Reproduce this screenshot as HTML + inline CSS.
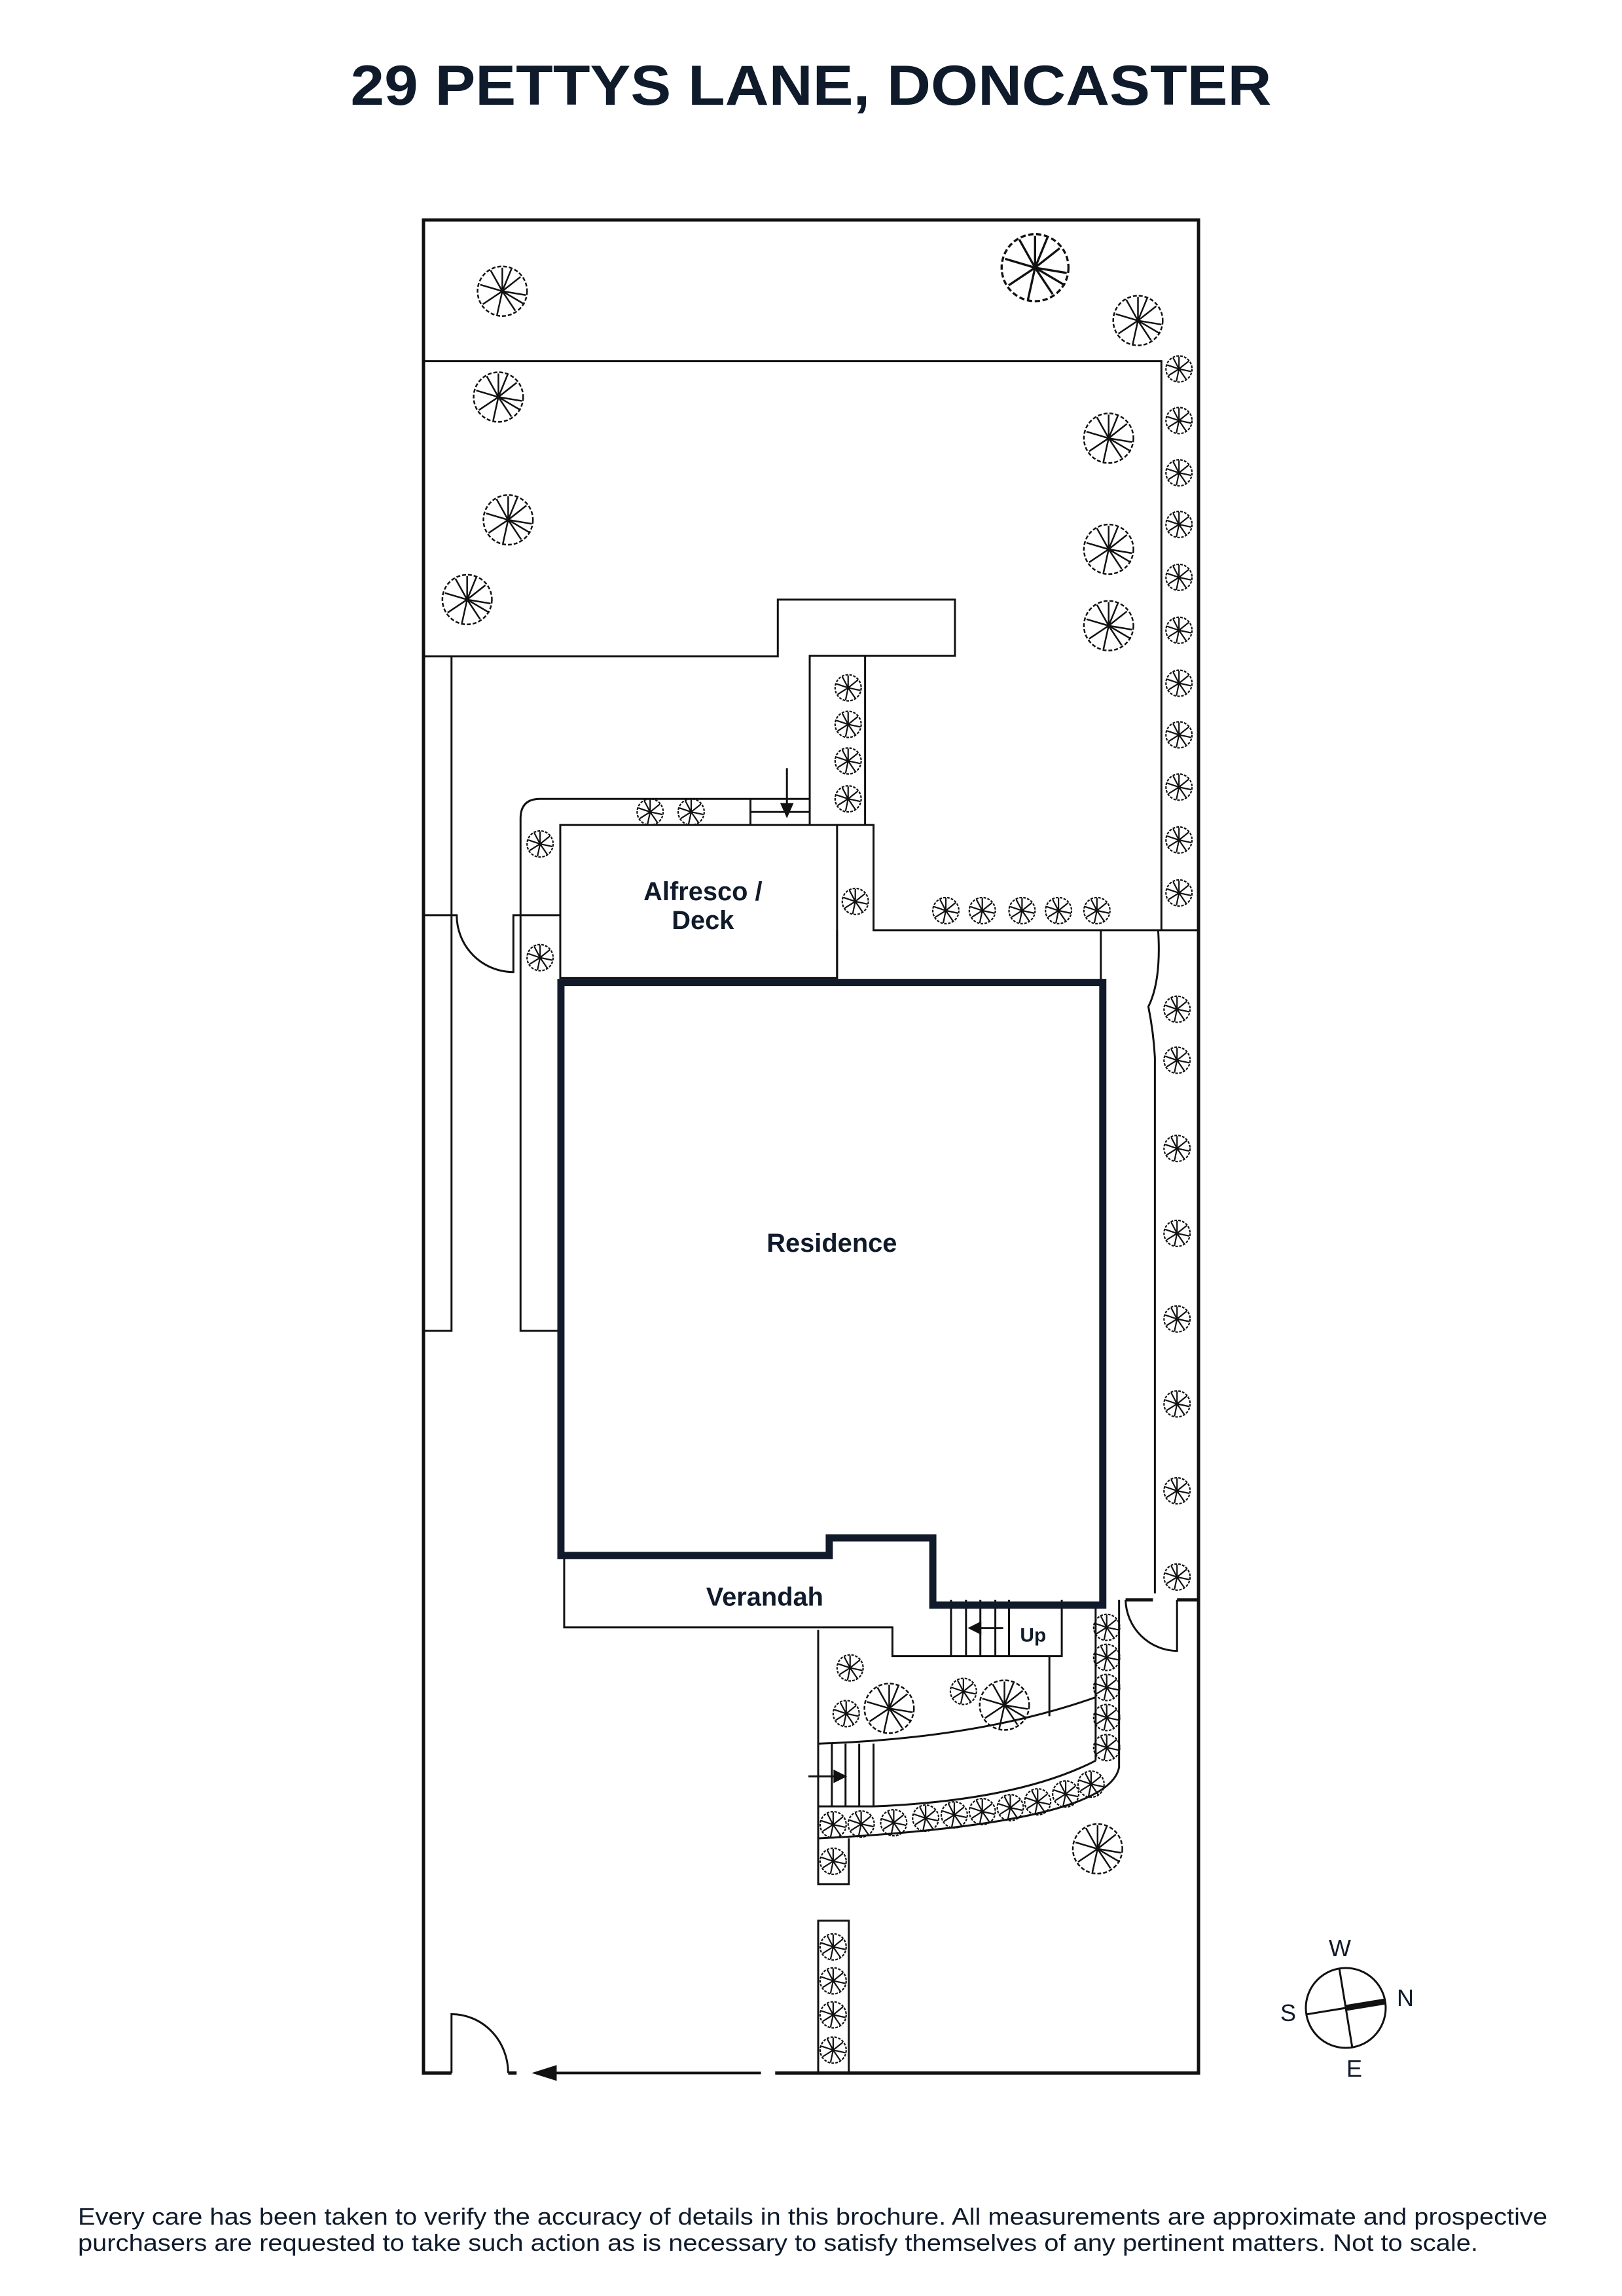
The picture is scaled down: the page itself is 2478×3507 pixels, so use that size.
<!DOCTYPE html>
<html><head><meta charset="utf-8"><style>
html,body{margin:0;padding:0;background:#fff}
svg{display:block}
text{font-family:"Liberation Sans",Arial,sans-serif;fill:#0f1a2a}
</style></head><body>
<svg width="2478" height="3507" viewBox="0 0 2478 3507" xmlns="http://www.w3.org/2000/svg">
<defs>
<g id="tb" fill="none" stroke="#111" stroke-width="2.5">
<circle r="38" stroke-dasharray="6 3"/>
<path d="M0 0L0 -36M0 0L28 -22M0 0L36 6M0 0L20 30M0 0L-8 36M0 0L-30 20M0 0L-34 -10M0 0L-18 -32M0 0L14 -34M0 0L34 20"/>
</g>
<g id="ts" fill="none" stroke="#111" stroke-width="2.2">
<circle r="20" stroke-dasharray="4 2"/>
<path d="M0 0L0 -19M0 0L15 -12M0 0L19 4M0 0L11 16M0 0L-4 19M0 0L-16 10M0 0L-18 -6M0 0L-9 -17"/>
</g>
</defs>
<text x="1239" y="160" font-size="86" font-weight="bold" text-anchor="middle" textLength="1407" lengthAdjust="spacingAndGlyphs">29 PETTYS LANE, DONCASTER</text>

<g transform="translate(647 336) scale(0.995 0.998) translate(-647 -336)">
<g fill="none" stroke="#111" stroke-width="3">
<path d="M690 3172H647V336H1837V2448H1804M1725 2448H1767" stroke-width="5"/>
<path d="M1837 2448V3172H1187" stroke-width="5"/>
<path d="M1165 3172H830" />
<path d="M777 3172H790" stroke-width="5"/>
<path d="M690 3172V3082A87 90 0 0 1 777 3172"/>
<path d="M647 552H1780V1423"/>
<path d="M647 1004H1191V917H1463V1003H1240V1261"/>
<path d="M1325 1004V1261"/>
<path d="M690 1004V2036H647"/>
<path d="M647 1400H698A87 87 0 0 0 785 1487V1400H857"/>
<path d="M857 2036H796V1252Q796 1222 826 1222H1240"/>
<path d="M1149 1222V1261M1149 1242H1240"/>
<rect x="857" y="1262" width="425" height="234"/>
<path d="M1282 1262H1338V1423H1837M1282 1423V1496"/>
<path d="M1687 1423V2448"/>
<path d="M1775 1423Q1780 1500 1760 1540Q1768 1580 1770 1618V2438"/>
<path d="M863 2380V2490H1367V2534H1627V2448"/>
<path d="M1457 2448V2534M1480 2448V2534M1502 2448V2534M1525 2448V2534M1546 2448V2534"/>
<path d="M1725 2448A80 80 0 0 0 1804 2526V2448"/>
<path d="M1253 2494V2883H1300V2813"/>
<path d="M1608 2534V2626"/>
<path d="M1253 2668Q1500 2660 1679 2597"/>
<path d="M1338 2764Q1560 2755 1679 2694"/>
<path d="M1679 2453V2694"/>
<path d="M1715 2448V2704Q1700 2790 1253 2813"/>
<path d="M1274 2668V2764M1295 2668V2764M1316 2668V2764M1338 2668V2764M1253 2764H1338"/>
<path d="M1253 3172V2939H1300V3172"/>
</g>
<path d="M858 1503H1690V2456H1429V2353H1270V2380H858Z" fill="none" stroke="#111a2a" stroke-width="11"/>
<g stroke="#111" stroke-width="3" fill="#111">
<path d="M1205 1175V1232" fill="none"/><path d="M1197 1230H1213L1205 1248Z"/>
<path d="M1537 2491H1500" fill="none"/><path d="M1502 2483V2499L1486 2491Z"/>
<path d="M1238 2718H1280" fill="none"/><path d="M1278 2710V2726L1294 2718Z"/>
<path d="M1165 3172H845" fill="none" stroke-width="4"/><path d="M850 3162V3182L818 3172Z"/>
</g>
<g font-weight="bold" text-anchor="middle">
<text x="1076" y="1377" font-size="40">Alfresco /</text>
<text x="1076" y="1421" font-size="40">Deck</text>
<text x="1274" y="1915" font-size="40">Residence</text>
<text x="1171" y="2457" font-size="40">Verandah</text>
<text x="1583" y="2512" font-size="30">Up</text>
</g>
<use href="#tb" x="768" y="445"/><use href="#tb" x="1586" y="409" transform="translate(1586 409) scale(1.35) translate(-1586 -409)"/>
<use href="#tb" x="1744" y="490"/><use href="#tb" x="762" y="607"/><use href="#tb" x="1699" y="670"/>
<use href="#tb" x="777" y="795"/><use href="#tb" x="714" y="917"/><use href="#tb" x="1699" y="840"/>
<use href="#tb" x="1699" y="957"/><use href="#tb" x="1362" y="2614"/><use href="#tb" x="1539" y="2609"/><use href="#tb" x="1682" y="2829"/>
<g>
<use href="#ts" x="1807" y="564"/><use href="#ts" x="1807" y="643"/><use href="#ts" x="1807" y="723"/><use href="#ts" x="1807" y="802"/>
<use href="#ts" x="1807" y="883"/><use href="#ts" x="1807" y="964"/><use href="#ts" x="1807" y="1045"/><use href="#ts" x="1807" y="1124"/>
<use href="#ts" x="1807" y="1204"/><use href="#ts" x="1807" y="1285"/><use href="#ts" x="1807" y="1366"/>
<use href="#ts" x="1449" y="1393"/><use href="#ts" x="1505" y="1393"/><use href="#ts" x="1566" y="1393"/><use href="#ts" x="1622" y="1393"/><use href="#ts" x="1681" y="1393"/>
<use href="#ts" x="1299" y="1052"/><use href="#ts" x="1299" y="1108"/><use href="#ts" x="1299" y="1164"/><use href="#ts" x="1299" y="1222"/>
<use href="#ts" x="995" y="1242"/><use href="#ts" x="1058" y="1242"/><use href="#ts" x="826" y="1291"/><use href="#ts" x="1310" y="1379"/><use href="#ts" x="826" y="1465"/>
<use href="#ts" x="1804" y="1544"/><use href="#ts" x="1804" y="1622"/><use href="#ts" x="1804" y="1757"/><use href="#ts" x="1804" y="1887"/>
<use href="#ts" x="1804" y="2018"/><use href="#ts" x="1804" y="2148"/><use href="#ts" x="1804" y="2281"/><use href="#ts" x="1804" y="2413"/>
<use href="#ts" x="1696" y="2490"/><use href="#ts" x="1696" y="2536"/><use href="#ts" x="1696" y="2582"/><use href="#ts" x="1696" y="2628"/><use href="#ts" x="1696" y="2674"/>
<use href="#ts" x="1672" y="2730"/><use href="#ts" x="1633" y="2745"/><use href="#ts" x="1590" y="2757"/><use href="#ts" x="1548" y="2766"/>
<use href="#ts" x="1505" y="2772"/><use href="#ts" x="1462" y="2777"/><use href="#ts" x="1418" y="2782"/><use href="#ts" x="1369" y="2789"/>
<use href="#ts" x="1319" y="2791"/><use href="#ts" x="1276" y="2792"/>
<use href="#ts" x="1302" y="2552"/><use href="#ts" x="1296" y="2622"/><use href="#ts" x="1476" y="2588"/><use href="#ts" x="1276" y="2848"/>
<use href="#ts" x="1276" y="2979"/><use href="#ts" x="1276" y="3031"/><use href="#ts" x="1276" y="3083"/><use href="#ts" x="1276" y="3137"/>
</g>
</g>
<g>
<circle cx="2056" cy="3067" r="61" fill="none" stroke="#111" stroke-width="3"/>
<path d="M2046 3006L2066 3128M1995 3077L2117 3057" stroke="#111" stroke-width="3"/>
<path d="M2056 3067L2117 3057" stroke="#111" stroke-width="9"/>
<text x="2047" y="2988" font-size="36" text-anchor="middle">W</text>
<text x="2147" y="3064" font-size="36" text-anchor="middle">N</text>
<text x="1968" y="3087" font-size="36" text-anchor="middle">S</text>
<text x="2069" y="3172" font-size="36" text-anchor="middle">E</text>
</g>
<text x="119" y="3398" font-size="36" textLength="2245" lengthAdjust="spacingAndGlyphs">Every care has been taken to verify the accuracy of details in this brochure. All measurements are approximate and prospective</text>
<text x="119" y="3438" font-size="36" textLength="2139" lengthAdjust="spacingAndGlyphs">purchasers are requested to take such action as is necessary to satisfy themselves of any pertinent matters. Not to scale.</text>
</svg>
</body></html>
